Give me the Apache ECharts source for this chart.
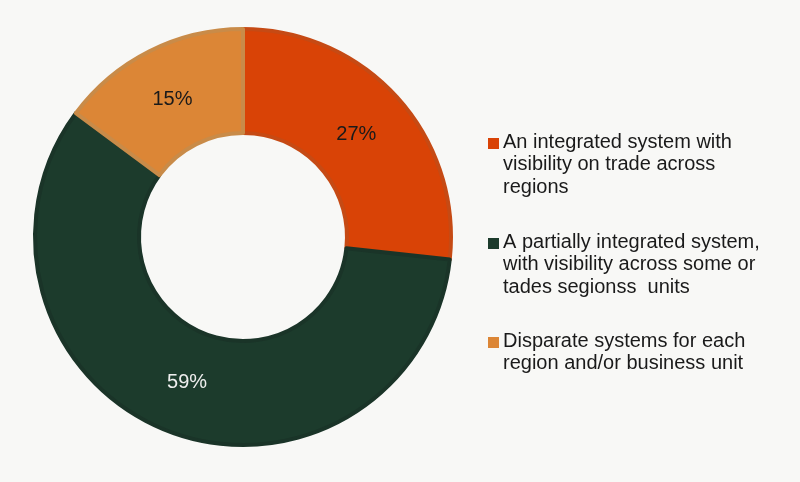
<!DOCTYPE html>
<html><head><meta charset="utf-8">
<script src="https://cdn.jsdelivr.net/npm/echarts@6/dist/echarts.min.js"></script>
<style>html,body{margin:0;padding:0;background:#f8f8f6}#c{width:800px;height:482px}</style>
</head><body><div id="c"></div>
<script>
const categories = [
  "An integrated system with\nvisibility on trade across\nregions",
  "A partially integrated system,\nwith visibility across some or\ntades segionss  units",
  "Disparate systems for each\nregion and/or business unit"
];
const values = [27, 59, 15];
const labels = ["27%", "59%", "15%"];
const colors = ["#d94306", "#1c3b2c", "#dc8636"];
const borderColors = ["#c64a14", "#1a3428", "#c98b48"];
const labelColors = ["#1a1a1a", "#eeeeee", "#1a1a1a"];
const labelOffsets = [[-5, 4], [2, -3], [1, 4]];

const chart = echarts.init(document.getElementById('c'), null, {renderer: 'canvas'});
const legendTops = [131, 231, 330];
const graphic = [];
categories.forEach((c, i) => {
  graphic.push({type: 'rect', left: 488, top: legendTops[i] + 7, shape: {width: 11, height: 11}, style: {fill: colors[i]}});
  graphic.push({type: 'text', left: 503, top: legendTops[i], style: {text: c, fill: '#1a1a1a', font: '20px "Liberation Sans", Arial, sans-serif', lineHeight: 22.5}});
});
chart.setOption({
  backgroundColor: '#f8f8f6',
  animation: false,
  graphic: graphic,
  series: [{
    type: 'pie',
    center: [243, 237],
    radius: [104, 208],
    startAngle: 90,
    clockwise: true,
    avoidLabelOverlap: false,
    label: {show: true, position: 'inside', fontSize: 20, fontFamily: '"Liberation Sans", Arial, sans-serif',
      formatter: p => labels[p.dataIndex]},
    labelLine: {show: false},
    data: categories.map((c, i) => ({
      name: c, value: values[i],
      itemStyle: {color: colors[i], borderColor: borderColors[i], borderWidth: 4},
      label: {color: labelColors[i], offset: labelOffsets[i]}
    }))
  }]
});
</script></body></html>
